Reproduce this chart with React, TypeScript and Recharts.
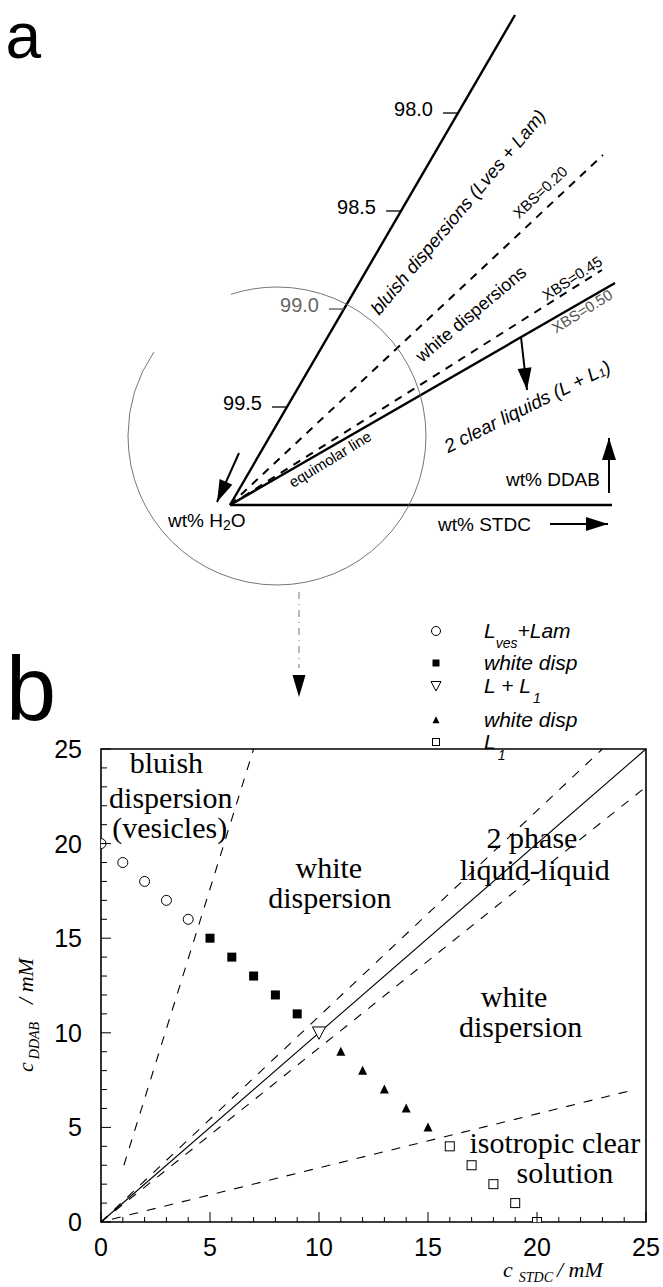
import React from 'react';
import {
  ComposedChart,
  XAxis,
  YAxis,
  Scatter,
  ReferenceLine,
  ReferenceDot,
  ReferenceArea,
  Legend,
} from 'recharts';

const SANS = '"Liberation Sans", Arial, Helvetica, sans-serif';
const SERIF = '"Liberation Serif", "Times New Roman", Times, serif';

// ---------------- Panel b data (c_STDC / mM, c_DDAB / mM) ----------------
const lvesLamPoints = [
  { x: 0, y: 20 }, { x: 1, y: 19 }, { x: 2, y: 18 }, { x: 3, y: 17 }, { x: 4, y: 16 },
];
const whiteDispDdabPoints = [
  { x: 5, y: 15 }, { x: 6, y: 14 }, { x: 7, y: 13 }, { x: 8, y: 12 }, { x: 9, y: 11 },
];
const twoLiquidPoints = [{ x: 10, y: 10 }];
const whiteDispStdcPoints = [
  { x: 11, y: 9 }, { x: 12, y: 8 }, { x: 13, y: 7 }, { x: 14, y: 6 }, { x: 15, y: 5 },
];
const l1Points = [
  { x: 16, y: 4 }, { x: 17, y: 3 }, { x: 18, y: 2 }, { x: 19, y: 1 }, { x: 20, y: 0 },
];

const legendNames = ['Lves+Lam', 'white disp', 'L + L1', 'white disp ', 'L1'];

const equimolarLine = [{ x: 0, y: 0 }, { x: 25, y: 25 }];
const upperTwoPhaseBoundary = [{ x: 0, y: 0 }, { x: 23, y: 25 }];
const lowerTwoPhaseBoundary = [{ x: 0, y: 0 }, { x: 25, y: 23 }];
const vesicleBoundary = [{ x: 1.05, y: 3 }, { x: 7, y: 25 }];
const micellarBoundary = [{ x: 0.5, y: 0.15 }, { x: 24.5, y: 7 }];

const xMajorTicks = [0, 5, 10, 15, 20, 25];
const xAllTicks = [0, 1, 2, 3, 4, 5, 6, 7, 8, 9, 10, 11, 12, 13, 14, 15, 16, 17, 18, 19, 20, 21, 22, 23, 24, 25];
const yMajorTicks = [0, 5, 10, 15, 20, 25];
const yAllTicks = [0, 1, 2, 3, 4, 5, 6, 7, 8, 9, 10, 11, 12, 13, 14, 15, 16, 17, 18, 19, 20, 21, 22, 23, 24, 25];

// ---------------- Panel a data (schematic diagram units, H2O corner at origin) ----------------
const h2oCorner = { x: 0, y: 0 };
const bluishBoundaryEnd = { x: 285, y: 490 };
const xbs020End = { x: 373, y: 350 };
const xbs045End = { x: 372, y: 235 };
const equimolarEnd = { x: 385, y: 222 };
const stdcAxisEnd = { x: 382, y: 0 };
const h2oTicks = [99.5, 99.0, 98.5, 98.0];
const h2oTickLabels = ['99.5', '99.0', '98.5', '98.0'];
const h2oRange = [100, 97.5];
const zoomCircleCenter = { x: 47, y: 69 };
const zoomLink = [{ x: 69, y: -87 }, { x: 69, y: -163 }];
const zoomArrowTip = { x: 69, y: -192 };
const arrows = [
  { from: { x: 9, y: 52 }, to: { x: -13, y: 3 } },
  { from: { x: 291, y: 168 }, to: { x: 297, y: 115 } },
  { from: { x: 379, y: 12 }, to: { x: 379, y: 67 } },
  { from: { x: 320, y: -19 }, to: { x: 378, y: -19 } },
];

// ---------------- helpers ----------------
function annotation(key: string, x: number, y: number, draw: (cx: number, cy: number) => React.ReactNode) {
  return (
    <ReferenceDot
      key={key}
      x={x}
      y={y}
      r={0}
      ifOverflow="visible"
      fill="none"
      stroke="none"
      shape={(p: any) => <g>{draw(p.cx, p.cy)}</g>}
    />
  );
}

function rotText(
  key: string, x: number, y: number, content: React.ReactNode,
  o: { size: number; angle?: number; italic?: boolean; family?: string; anchor?: string; color?: string; base?: string }
) {
  return annotation(key, x, y, (cx, cy) => (
    <text
      x={cx}
      y={cy}
      fontSize={o.size}
      fontFamily={o.family || SANS}
      fontStyle={o.italic ? 'italic' : 'normal'}
      textAnchor={(o.anchor as any) || 'middle'}
      dominantBaseline={(o.base as any) || 'central'}
      fill={o.color || '#000'}
      transform={o.angle ? `rotate(${o.angle} ${cx} ${cy})` : undefined}
    >
      {content}
    </text>
  ));
}

type Shape = 'openCircle' | 'filledSquare' | 'openTriDown' | 'filledTriUp' | 'openSquare';
function marker(kind: Shape, cx: number, cy: number, s: number) {
  switch (kind) {
    case 'openCircle':
      return <circle cx={cx} cy={cy} r={s / 2} fill="#fff" stroke="#000" strokeWidth={1} />;
    case 'filledSquare':
      return <rect x={cx - s / 2} y={cy - s / 2} width={s} height={s} fill="#000" />;
    case 'openSquare':
      return <rect x={cx - s / 2} y={cy - s / 2} width={s} height={s} fill="#fff" stroke="#000" strokeWidth={1} />;
    case 'openTriDown':
      return (
        <polygon
          points={`${cx - s / 2},${cy - s * 0.45} ${cx + s / 2},${cy - s * 0.45} ${cx},${cy + s * 0.5}`}
          fill="#fff"
          stroke="#000"
          strokeWidth={1}
        />
      );
    case 'filledTriUp':
    default:
      return (
        <polygon
          points={`${cx - s / 2},${cy + s * 0.45} ${cx + s / 2},${cy + s * 0.45} ${cx},${cy - s * 0.55}`}
          fill="#000"
        />
      );
  }
}

const seriesShapes: Shape[] = ['openCircle', 'filledSquare', 'openTriDown', 'filledTriUp', 'openSquare'];
const plotSizes = [10, 9, 13, 9, 9];
const legendSizes = [9, 7, 10, 7, 7];
const legendRowY = [20, 52, 75, 109, 131];

function legendLabel(i: number) {
  if (i === 0)
    return (
      <>
        <tspan>L</tspan>
        <tspan fontSize={14} dy={10}>ves</tspan>
        <tspan dy={-10}>+Lam</tspan>
      </>
    );
  if (i === 2)
    return (
      <>
        <tspan>L + L</tspan>
        <tspan fontSize={14} dy={10} dx={2}>1</tspan>
      </>
    );
  if (i === 4)
    return (
      <>
        <tspan>L</tspan>
        <tspan fontSize={14} dy={11} dx={2}>1</tspan>
      </>
    );
  return <tspan>{legendNames[i].trim()}</tspan>;
}

const renderLegend = () => (
  <svg width={243} height={150} style={{ overflow: 'visible', display: 'block' }}>
    {legendNames.map((_, i) => (
      <g key={i}>
        {marker(seriesShapes[i], 16, legendRowY[i], legendSizes[i])}
        <text x={64} y={legendRowY[i] + 7} fontSize={21} fontStyle="italic" fontFamily={SANS} fill="#000">
          {legendLabel(i)}
        </text>
      </g>
    ))}
  </svg>
);

const XTick = (p: any) => {
  const v = p.payload.value;
  const major = xMajorTicks.includes(v);
  return (
    <g>
      <line x1={p.x} x2={p.x} y1={p.y} y2={p.y - (major ? 10 : 5)} stroke="#000" strokeWidth={1} />
      {major && (
        <text x={p.x} y={p.y + 34} textAnchor="middle" fontSize={25} fontFamily={SANS} fill="#000">
          {v}
        </text>
      )}
    </g>
  );
};

const YTick = (p: any) => {
  const v = p.payload.value;
  const major = yMajorTicks.includes(v);
  return (
    <g>
      <line x1={p.x} x2={p.x + (major ? 10 : 6)} y1={p.y} y2={p.y} stroke="#000" strokeWidth={1} />
      {major && (
        <text x={p.x - 19} y={p.y + 9} textAnchor="end" fontSize={25} fontFamily={SANS} fill="#000">
          {v}
        </text>
      )}
    </g>
  );
};

// ---------------- Panel a ----------------
function PanelA() {
  const frac = (w: number) => (h2oRange[0] - w) / (h2oRange[0] - h2oRange[1]);
  return (
    <ComposedChart width={663} height={710} margin={{ top: 0, right: 0, bottom: 0, left: 0 }}>
      <XAxis type="number" dataKey="x" domain={[-230, 433]} hide allowDataOverflow />
      <YAxis type="number" dataKey="y" domain={[-205, 505]} hide allowDataOverflow />
      <Scatter data={[h2oCorner]} isAnimationActive={false} shape={() => <g />} legendType="none" />

      {/* zoom circle */}
      <ReferenceDot
        x={zoomCircleCenter.x}
        y={zoomCircleCenter.y}
        r={149}
        ifOverflow="visible"
        fill="none"
        stroke="#666"
        strokeWidth={0.9}
        strokeDasharray="557 98 282"
      />
      <ReferenceLine segment={zoomLink} stroke="#777" strokeWidth={1} strokeDasharray="7 5 1 5" ifOverflow="visible" />
      {annotation('zoomTip', zoomArrowTip.x, zoomArrowTip.y, (cx, cy) => (
        <polygon points={`${cx - 6.5},${cy - 22} ${cx + 6.5},${cy - 22} ${cx},${cy}`} fill="#000" />
      ))}

      {/* phase boundary rays */}
      <ReferenceLine segment={[h2oCorner, stdcAxisEnd]} stroke="#000" strokeWidth={2.4} ifOverflow="visible" />
      <ReferenceLine segment={[h2oCorner, bluishBoundaryEnd]} stroke="#000" strokeWidth={2.4} ifOverflow="visible" />
      <ReferenceLine segment={[h2oCorner, xbs020End]} stroke="#000" strokeWidth={2} strokeDasharray="8 7" ifOverflow="visible" />
      <ReferenceLine segment={[h2oCorner, xbs045End]} stroke="#000" strokeWidth={2} strokeDasharray="8 7" ifOverflow="visible" />
      <ReferenceLine segment={[h2oCorner, equimolarEnd]} stroke="#000" strokeWidth={2.4} ifOverflow="visible" />

      {/* H2O ticks along the bluish boundary */}
      {h2oTicks.map((w, i) => {
        const f = frac(w);
        const px = bluishBoundaryEnd.x * f;
        const py = bluishBoundaryEnd.y * f;
        return (
          <ReferenceLine
            key={'t' + i}
            segment={[{ x: px - 15, y: py }, { x: px, y: py }]}
            stroke={i === 1 ? '#555' : '#000'}
            strokeWidth={1.3}
            ifOverflow="visible"
          />
        );
      })}
      {h2oTicks.map((w, i) => {
        const f = frac(w);
        return rotText('tl' + i, bluishBoundaryEnd.x * f - 25, bluishBoundaryEnd.y * f + 4, h2oTickLabels[i], {
          size: 20,
          anchor: 'end',
          color: i === 1 ? '#666' : '#000',
        });
      })}

      {/* arrows */}
      {arrows.map((a, i) => (
        <ReferenceLine key={'as' + i} segment={[a.from, a.to]} stroke="#000" strokeWidth={2} ifOverflow="visible" />
      ))}
      {arrows.map((a, i) => {
        const ang = (Math.atan2(-(a.to.y - a.from.y), a.to.x - a.from.x) * 180) / Math.PI;
        return annotation('ah' + i, a.to.x, a.to.y, (cx, cy) => (
          <polygon points="0,0 -22,-7 -22,7" fill="#000" transform={`translate(${cx},${cy}) rotate(${ang})`} />
        ));
      })}

      {/* labels */}
      {rotText('a', -224.5, 447, 'a', { size: 64, anchor: 'start', base: 'alphabetic' })}
      {rotText('bluish', 228, 293, 'bluish dispersions (Lves + Lam)', { size: 18.5, angle: -50, italic: true })}
      {rotText('x20', 310, 313, 'XBS=0.20', { size: 15, angle: -43 })}
      {rotText('white', 241, 191, 'white dispersions', { size: 18, angle: -40 })}
      {rotText('x45', 342, 227, 'XBS=0.45', { size: 15, angle: -33 })}
      {rotText('x50', 352, 194, 'XBS=0.50', { size: 15, angle: -32, color: '#555' })}
      {rotText(
        'clear', 297, 99,
        <>
          <tspan>2 clear liquids (L + L</tspan>
          <tspan fontSize={12} dy={4}>1</tspan>
          <tspan dy={-4}>)</tspan>
        </>,
        { size: 19, angle: -26.5, italic: true }
      )}
      {rotText('equi', 100, 46, 'equimolar line', { size: 15, angle: -31.5 })}
      {rotText(
        'h2o', -62, -15,
        <>
          <tspan>wt% H</tspan>
          <tspan fontSize={14} dy={5}>2</tspan>
          <tspan dy={-5}>O</tspan>
        </>,
        { size: 19, anchor: 'start' }
      )}
      {rotText('ddab', 276, 26, 'wt% DDAB', { size: 19, anchor: 'start' })}
      {rotText('stdc', 208, -19, 'wt% STDC', { size: 19, anchor: 'start' })}
    </ComposedChart>
  );
}

// ---------------- Panel b ----------------
function PanelB() {
  const series = [lvesLamPoints, whiteDispDdabPoints, twoLiquidPoints, whiteDispStdcPoints, l1Points];
  const serifText = (key: string, x: number, y: number, s: string, anchor = 'middle') =>
    rotText(key, x, y, s, { size: 30, family: SERIF, anchor, base: 'alphabetic' });
  return (
    <ComposedChart width={663} height={687} margin={{ top: 149, right: 17, bottom: 25, left: 41 }}>
      <XAxis
        type="number"
        dataKey="x"
        domain={[0, 25]}
        ticks={xAllTicks}
        interval={0}
        tickSize={0}
        tickMargin={0}
        axisLine={false}
        tickLine={false}
        tick={(p: any) => <XTick {...p} />}
        height={40}
        allowDataOverflow
      />
      <YAxis
        type="number"
        dataKey="y"
        domain={[0, 25]}
        ticks={yAllTicks}
        interval={0}
        tickSize={0}
        tickMargin={0}
        axisLine={false}
        tickLine={false}
        tick={(p: any) => <YTick {...p} />}
        width={60}
        allowDataOverflow
      />
      <ReferenceArea x1={0} x2={25} y1={0} y2={25} fill="none" stroke="#000" strokeWidth={1.6} ifOverflow="visible" />

      <ReferenceLine segment={equimolarLine} stroke="#000" strokeWidth={1.1} ifOverflow="visible" />
      <ReferenceLine segment={upperTwoPhaseBoundary} stroke="#000" strokeWidth={1.1} strokeDasharray="9 9" ifOverflow="visible" />
      <ReferenceLine segment={lowerTwoPhaseBoundary} stroke="#000" strokeWidth={1.1} strokeDasharray="9 9" ifOverflow="visible" />
      <ReferenceLine segment={vesicleBoundary} stroke="#000" strokeWidth={1.1} strokeDasharray="9 9" ifOverflow="visible" />
      <ReferenceLine segment={micellarBoundary} stroke="#000" strokeWidth={1.1} strokeDasharray="9 9" ifOverflow="visible" />

      {series.map((d, i) => (
        <Scatter
          key={'s' + i}
          name={legendNames[i]}
          data={d}
          isAnimationActive={false}
          fill="#000"
          shape={(p: any) => marker(seriesShapes[i], p.cx, p.cy, plotSizes[i])}
        />
      ))}

      <Legend
        layout="vertical"
        align="center"
        verticalAlign="middle"
        wrapperStyle={{ position: 'absolute', left: 420, top: 11, width: 243, height: 150 }}
        content={renderLegend}
      />

      {serifText('r1', 3.0, 23.73, 'bluish')}
      {serifText('r2', 3.2, 21.88, 'dispersion')}
      {serifText('r3', 3.15, 20.3, '(vesicles)')}
      {serifText('r4', 10.45, 18.18, 'white')}
      {serifText('r5', 10.5, 16.6, 'dispersion')}
      {serifText('r6', 19.77, 19.77, '2 phase')}
      {serifText('r7', 19.9, 18.08, 'liquid-liquid')}
      {serifText('r8', 18.95, 11.36, 'white')}
      {serifText('r9', 19.25, 9.78, 'dispersion')}
      {serifText('r10', 16.9, 3.65, 'isotropic clear', 'start')}
      {serifText('r11', 21.28, 2.06, 'solution')}

      {rotText(
        'ylab', -3.12, 7.93,
        <>
          <tspan>c</tspan>
          <tspan fontSize={14} dy={6} dx={3}>DDAB</tspan>
          <tspan dy={-6} dx={18}>/ mM</tspan>
        </>,
        { size: 22, family: SERIF, italic: true, anchor: 'start', base: 'alphabetic', angle: -90 }
      )}
      {rotText(
        'xlab', 18.44, -2.9,
        <>
          <tspan>c</tspan>
          <tspan fontSize={14} dy={5} dx={6}>STDC</tspan>
          <tspan dy={-5} dx={4}>/ mM</tspan>
        </>,
        { size: 22, family: SERIF, italic: true, anchor: 'start', base: 'alphabetic' }
      )}
      {rotText('b', -4.36, 26.53, 'b', { size: 90, anchor: 'start', base: 'alphabetic' })}
    </ComposedChart>
  );
}

export default function App() {
  return (
    <div style={{ position: 'absolute', left: 0, top: 0, width: 663, height: 1287, background: '#fff', overflow: 'hidden' }}>
      <div style={{ position: 'absolute', left: 0, top: 0 }}>
        <PanelA />
      </div>
      <div style={{ position: 'absolute', left: 0, top: 600 }}>
        <PanelB />
      </div>
    </div>
  );
}
